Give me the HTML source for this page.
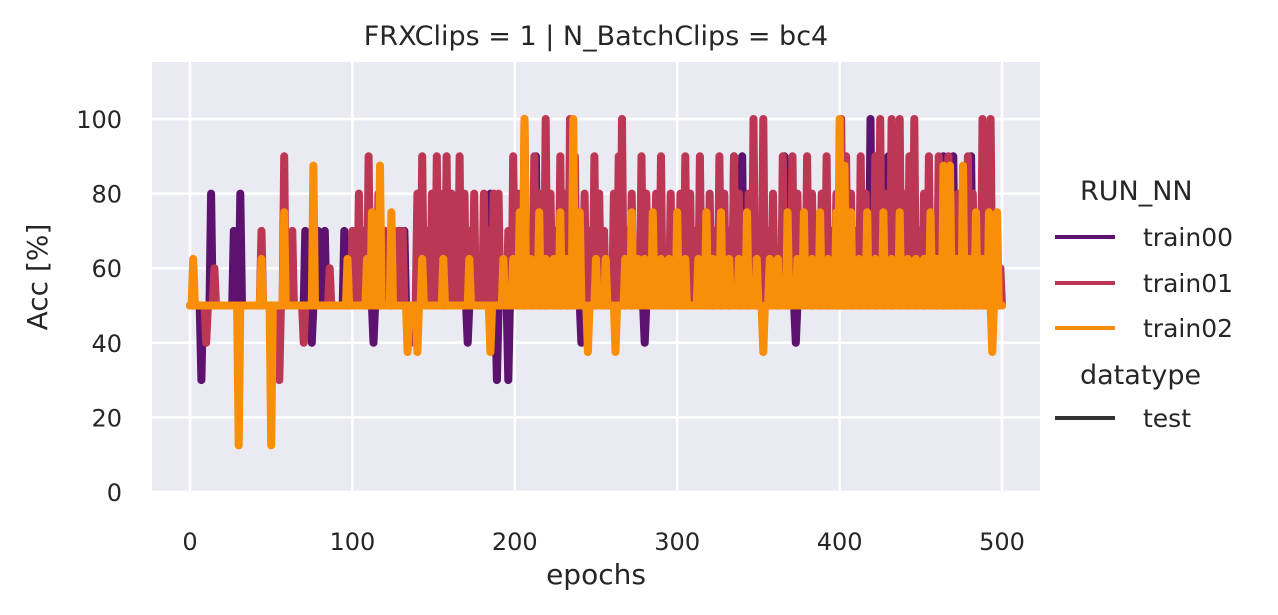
<!DOCTYPE html>
<html><head><meta charset="utf-8"><style>
body{margin:0;background:#fff;font-family:"DejaVu Sans","Liberation Sans",sans-serif;}
svg text{font-family:"DejaVu Sans","Liberation Sans",sans-serif;fill:#262626;}
</style></head><body>
<svg id="chart" width="1278" height="611" viewBox="0 0 1278 611" xmlns="http://www.w3.org/2000/svg">
<rect x="152" y="62" width="888" height="430" fill="#eaeaf2"/>
<g id="grid"></g>
<g id="series"></g>
<g id="ticks"></g>
<text x="596" y="45" font-size="27" text-anchor="middle">FRXClips = 1 | N_BatchClips = bc4</text>
<text x="596" y="584" font-size="28" text-anchor="middle">epochs</text>
<text transform="translate(47,277) rotate(-90)" font-size="28" text-anchor="middle">Acc [%]</text>
<g>
<text x="1080" y="200" font-size="27">RUN_NN</text>
<line x1="1055" y1="237" x2="1115" y2="237" stroke="#5c126e" stroke-width="4"/>
<text x="1143" y="246" font-size="25">train00</text>
<line x1="1055" y1="283" x2="1115" y2="283" stroke="#bc3754" stroke-width="4"/>
<text x="1143" y="292" font-size="25">train01</text>
<line x1="1055" y1="328" x2="1115" y2="328" stroke="#f98e09" stroke-width="4"/>
<text x="1143" y="337" font-size="25">train02</text>
<text x="1080" y="384" font-size="27">datatype</text>
<line x1="1055" y1="418" x2="1115" y2="418" stroke="#333" stroke-width="4"/>
<text x="1143" y="427" font-size="25">test</text>
</g>
</svg>
<script>
const xTicks=[0,100,200,300,400,500];
const yTicks=[0,20,40,60,80,100];
const baseline=50;
const t00Epochs=[7,13,27,31,71,75,79,83,95,113,129,132,171,185,189,196,200,213,220,241,251,260,280,290,310,318,335,340,348,355,366,373,385,390,419,424,430,437,445,455,464,470,481,490,498];
const t00Values=[30,80,70,80,70,40,70,70,70,40,70,70,40,80,30,30,60,90,70,40,80,60,40,60,70,70,90,90,70,70,90,40,70,80,100,90,90,70,90,80,90,90,90,70,60];
const t01Epochs=[10,15,44,55,58,63,70,86,100,104,107,110,113,116,120,124,128,131,136,140,143,146,149,152,154,158,161,164,166,169,172,175,178,181,184,187,190,193,196,199,202,206,209,212,215,219,222,225,228,231,234,237,240,243,246,249,252,255,258,261,264,266,269,272,275,278,281,284,287,290,293,296,299,302,305,308,311,314,317,320,323,326,329,332,335,338,341,344,347,350,353,356,359,362,365,368,371,374,377,380,383,386,389,392,395,398,401,404,407,410,413,416,419,422,425,428,432,434,437,440,443,446,449,452,455,458,461,464,467,470,473,476,479,482,485,488,491,493,496,499];
const t01Values=[40,60,70,30,90,70,40,60,70,80,70,90,60,80,70,60,70,70,40,80,90,70,80,90,80,90,80,70,90,80,70,80,60,80,70,80,80,60,70,90,80,100,70,90,80,100,80,70,90,80,100,90,70,80,70,90,80,70,60,80,90,100,70,80,60,90,80,70,80,90,60,80,70,80,90,80,70,90,60,80,70,90,80,70,90,80,70,80,100,70,100,70,80,60,90,70,90,80,70,90,80,70,80,90,70,80,100,90,80,70,90,80,60,90,100,80,100,70,100,80,90,100,70,80,90,60,90,80,90,70,80,60,90,80,70,100,90,100,70,60];
const t02Epochs=[2,30,44,50,58,76,97,109,112,117,124,134,140,143,156,172,185,193,199,203,206,210,215,219,224,228,232,236,240,245,250,256,262,268,272,276,280,285,290,295,300,305,313,318,322,327,332,338,343,349,353,357,362,368,374,378,383,388,393,398,400,403,407,412,417,422,427,432,437,442,447,452,456,460,464,468,472,476,480,484,488,492,494,497];
const t02Values=[62.5,12.5,62.5,12.5,75,87.5,62.5,62.5,75,87.5,75,37.5,37.5,62.5,62.5,62.5,37.5,62.5,62.5,75,100,62.5,75,62.5,62.5,75,62.5,100,75,37.5,62.5,62.5,37.5,62.5,75,62.5,62.5,75,62.5,62.5,75,62.5,62.5,75,62.5,75,62.5,62.5,75,62.5,37.5,62.5,62.5,75,62.5,75,62.5,75,62.5,75,100,87.5,75,62.5,75,62.5,75,62.5,75,62.5,62.5,62.5,75,62.5,87.5,87.5,62.5,87.5,62.5,75,62.5,75,37.5,75];

const NS="http://www.w3.org/2000/svg";
const L=152,R=1040,T=62,B=492;
function xScale(e){return 190+e*(1002-190)/500;}
function yScale(v){return 492-v*(492-119)/100;}
const grid=document.getElementById('grid'),ticks=document.getElementById('ticks'),series=document.getElementById('series');
xTicks.forEach(t=>{
  const l=document.createElementNS(NS,'line');
  
  
  l.setAttribute('x1',xScale(t));l.setAttribute('x2',xScale(t));l.setAttribute('y1',T);l.setAttribute('y2',B);
  l.setAttribute('stroke','#fff');l.setAttribute('stroke-width','2.5');grid.appendChild(l);
  const tx=document.createElementNS(NS,'text');
  
  
  tx.setAttribute('x',xScale(t));tx.setAttribute('y',550);tx.setAttribute('font-size','24');tx.setAttribute('text-anchor','middle');
  tx.textContent=t;ticks.appendChild(tx);
});
yTicks.forEach(t=>{
  const l=document.createElementNS(NS,'line');
  
  
  l.setAttribute('x1',L);l.setAttribute('x2',R);l.setAttribute('y1',yScale(t));l.setAttribute('y2',yScale(t));
  l.setAttribute('stroke','#fff');l.setAttribute('stroke-width','2.5');grid.appendChild(l);
  const tx=document.createElementNS(NS,'text');
  
  
  tx.setAttribute('x',122);tx.setAttribute('y',yScale(t)+9);tx.setAttribute('font-size','24');tx.setAttribute('text-anchor','end');
  tx.textContent=t;ticks.appendChild(tx);
});
function draw(epochs,values,color,name){
  const vals=new Array(501).fill(baseline);
  epochs.forEach((e,i)=>{vals[e]=values[i];});
  const pts=vals.map((v,e)=>xScale(e).toFixed(1)+','+yScale(v).toFixed(1)).join(' ');
  const p=document.createElementNS(NS,'polyline');
  
  
  p.setAttribute('points',pts);p.setAttribute('fill','none');p.setAttribute('stroke',color);
  p.setAttribute('stroke-width','8');p.setAttribute('stroke-linejoin','round');p.setAttribute('stroke-linecap','round');
  series.appendChild(p);
}
draw(t00Epochs,t00Values,'#5c126e','line-train00');
draw(t01Epochs,t01Values,'#bc3754','line-train01');
draw(t02Epochs,t02Values,'#f98e09','line-train02');
</script>
</body></html>
